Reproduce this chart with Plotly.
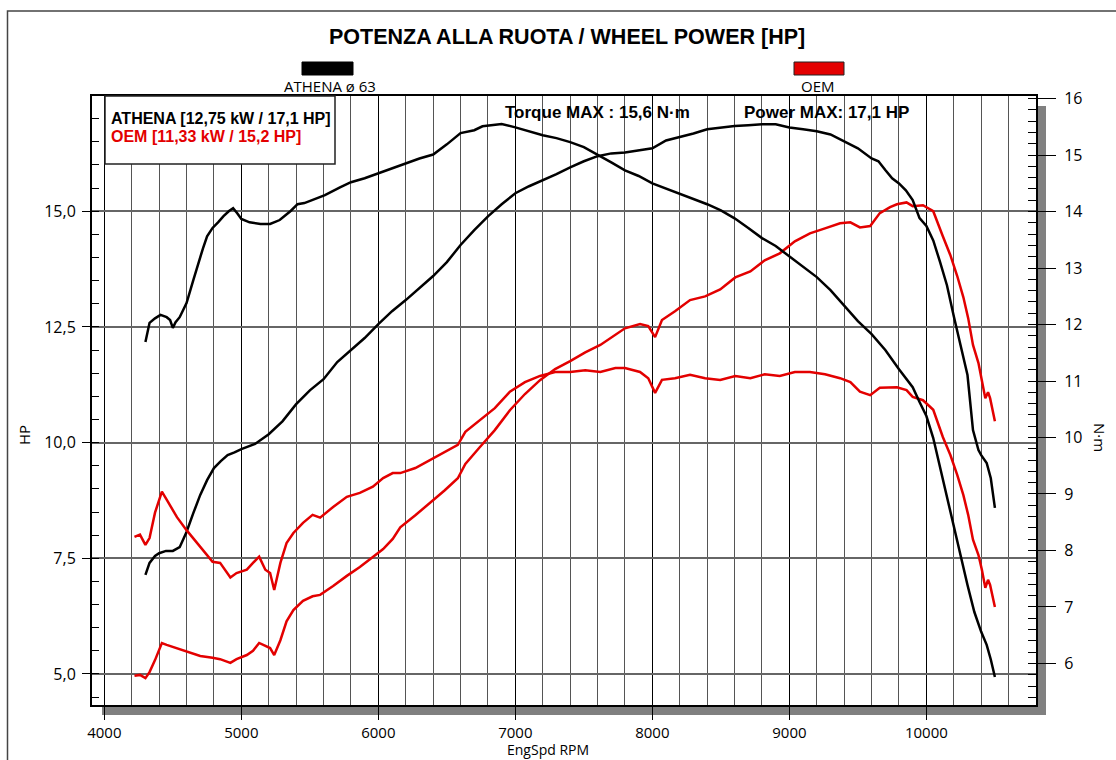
import plotly.graph_objects as go

# ---------------- data ----------------
rpm_athena_hp = [4300, 4330, 4370, 4400, 4450, 4500, 4550, 4600, 4650, 4700, 4750, 4800, 4850, 4900, 4950,
                 5000, 5100, 5200, 5300, 5400, 5500, 5600, 5700, 5800, 5900, 6000, 6100, 6200, 6300, 6400,
                 6500, 6600, 6700, 6800, 6900, 7000, 7100, 7200, 7300, 7400, 7500, 7600, 7700, 7800, 7900,
                 8000, 8100, 8200, 8300, 8400, 8500, 8600, 8700, 8800, 8900, 9000, 9100, 9200, 9300, 9400,
                 9500, 9600, 9650, 9700, 9750, 9800, 9850, 9900, 9950, 10000, 10050, 10100, 10150, 10200,
                 10250, 10300, 10340, 10380, 10400, 10440, 10470, 10500]
hp_athena = [7.14, 7.40, 7.55, 7.61, 7.66, 7.66, 7.74, 8.07, 8.48, 8.87, 9.19, 9.45, 9.60, 9.73, 9.79,
             9.86, 9.97, 10.18, 10.46, 10.83, 11.13, 11.37, 11.74, 12.00, 12.26, 12.56, 12.84, 13.08, 13.34, 13.60,
             13.90, 14.27, 14.59, 14.89, 15.15, 15.39, 15.54, 15.67, 15.80, 15.95, 16.08, 16.19, 16.25, 16.27, 16.32,
             16.36, 16.53, 16.60, 16.68, 16.77, 16.81, 16.84, 16.86, 16.88, 16.88, 16.81, 16.77, 16.73, 16.66, 16.51,
             16.36, 16.14, 16.08, 15.89, 15.71, 15.60, 15.45, 15.24, 14.85, 14.68, 14.37, 13.90, 13.40, 12.73,
             12.11, 11.46, 10.27, 9.84, 9.73, 9.56, 9.23, 8.59]

rpm_athena_nm = [4300, 4330, 4370, 4410, 4455, 4480, 4500, 4520, 4550, 4600, 4650, 4680, 4720, 4750, 4790,
                 4830, 4870, 4910, 4940, 4970, 5000, 5060, 5140, 5210, 5280, 5360, 5410, 5460, 5540, 5610,
                 5720, 5800, 5900, 6000, 6100, 6200, 6300, 6400, 6500, 6600, 6650, 6700, 6760, 6820, 6900,
                 7000, 7100, 7200, 7300, 7400, 7500, 7600, 7700, 7800, 7900, 8000, 8100, 8200, 8300, 8400,
                 8500, 8600, 8700, 8800, 8900, 9000, 9100, 9200, 9300, 9400, 9500, 9600, 9700, 9800, 9900,
                 9950, 10000, 10050, 10100, 10150, 10200, 10250, 10300, 10350, 10400, 10440, 10470, 10500]
nm_athena = [11.69, 12.03, 12.11, 12.17, 12.13, 12.08, 11.94, 12.04, 12.13, 12.38, 12.79, 13.05, 13.35, 13.56, 13.71,
             13.81, 13.92, 14.01, 14.06, 13.97, 13.87, 13.81, 13.78, 13.78, 13.85, 14.01, 14.13, 14.15, 14.22, 14.29,
             14.43, 14.52, 14.59, 14.68, 14.77, 14.86, 14.94, 15.01, 15.19, 15.39, 15.42, 15.44, 15.51, 15.53, 15.55,
             15.49, 15.42, 15.35, 15.30, 15.23, 15.14, 15.01, 14.87, 14.73, 14.63, 14.50, 14.41, 14.31, 14.22, 14.13,
             14.02, 13.88, 13.71, 13.53, 13.39, 13.21, 13.03, 12.84, 12.61, 12.34, 12.06, 11.83, 11.55, 11.21, 10.89,
             10.63, 10.38, 9.99, 9.46, 8.98, 8.45, 7.87, 7.39, 6.91, 6.56, 6.33, 6.07, 5.76]

rpm_oem = [4220, 4260, 4300, 4330, 4370, 4420, 4455, 4530, 4600, 4700, 4790, 4845, 4920, 4965, 5040,
           5085, 5130, 5175, 5210, 5240, 5285, 5330, 5380, 5450, 5520, 5575, 5670, 5770, 5865, 5960,
           6035, 6105, 6160, 6270, 6375, 6485, 6580, 6635, 6740, 6850, 6960, 7070, 7180, 7290, 7400,
           7510, 7620, 7730, 7800, 7910, 7970, 8020, 8070, 8165, 8275, 8385, 8495, 8605, 8715, 8820,
           8930, 9040, 9150, 9260, 9370, 9445, 9515, 9590, 9660, 9735, 9785, 9855, 9900, 9975, 10050,
           10120, 10175, 10225, 10270, 10305, 10340, 10380, 10405, 10430, 10450, 10465, 10500]
nm_oem = [8.24, 8.28, 8.10, 8.22, 8.67, 9.04, 8.90, 8.59, 8.36, 8.06, 7.80, 7.78, 7.52, 7.60, 7.66,
          7.78, 7.89, 7.66, 7.60, 7.30, 7.78, 8.13, 8.31, 8.49, 8.63, 8.58, 8.77, 8.95, 9.02, 9.13,
          9.28, 9.37, 9.37, 9.46, 9.60, 9.74, 9.87, 10.10, 10.31, 10.52, 10.81, 10.98, 11.09, 11.16, 11.16,
          11.19, 11.16, 11.23, 11.23, 11.16, 11.05, 10.79, 11.02, 11.05, 11.11, 11.05, 11.02, 11.09, 11.05, 11.12,
          11.09, 11.16, 11.16, 11.12, 11.05, 10.98, 10.81, 10.75, 10.88, 10.88, 10.89, 10.84, 10.72, 10.66, 10.49,
          10.01, 9.69, 9.34, 8.98, 8.63, 8.19, 7.92, 7.66, 7.34, 7.48, 7.39, 7.00]
hp_oem = [4.96, 4.98, 4.91, 5.04, 5.30, 5.67, 5.63, 5.56, 5.48, 5.39, 5.35, 5.32, 5.24, 5.32, 5.41,
          5.50, 5.67, 5.60, 5.56, 5.41, 5.73, 6.14, 6.38, 6.58, 6.68, 6.71, 6.90, 7.12, 7.31, 7.53,
          7.70, 7.92, 8.17, 8.43, 8.69, 8.97, 9.23, 9.54, 9.90, 10.27, 10.70, 11.05, 11.35, 11.59, 11.76,
          11.95, 12.11, 12.34, 12.47, 12.56, 12.52, 12.28, 12.65, 12.84, 13.08, 13.16, 13.31, 13.57, 13.70, 13.94,
          14.09, 14.35, 14.52, 14.63, 14.74, 14.76, 14.65, 14.68, 14.96, 15.09, 15.15, 15.19, 15.11, 15.13, 15.00,
          14.46, 14.05, 13.60, 13.14, 12.69, 12.11, 11.72, 11.35, 10.96, 11.09, 10.96, 10.46]

x_ticks = [4000, 5000, 6000, 7000, 8000, 9000, 10000]
hp_ticks = [5.0, 7.5, 10.0, 12.5, 15.0]
hp_tick_text = ["5,0", "7,5", "10,0", "12,5", "15,0"]
nm_ticks = [6, 7, 8, 9, 10, 11, 12, 13, 14, 15, 16]

x_range = [3910, 10800]
hp_range = [4.33, 17.49]
nm_range = [5.264, 16.046]

series_names = ["ATHENA ø 63", "OEM"]
info_lines = ["ATHENA [12,75 kW / 17,1 HP]", "OEM [11,33 kW / 15,2 HP]"]
title_text = "POTENZA ALLA RUOTA / WHEEL POWER [HP]"
max_texts = ["Torque MAX : 15,6 N·m", "Power MAX: 17,1 HP"]

# ---------------- layout geometry ----------------
W, H = 1116, 760
L, R, T, B = 92, 1036, 96, 705
RED = "#e30000"
BLACK = "#000000"
SANS = "Open Sans"
ARIAL = "Liberation Sans"


def px(x, y):
    return (x - L) / (R - L), (B - y) / (B - T)


fig = go.Figure()
fig.add_trace(go.Scatter(x=rpm_oem, y=hp_oem, mode="lines", line=dict(color=RED, width=2.5), yaxis="y", name="OEM HP"))
fig.add_trace(go.Scatter(x=rpm_oem, y=nm_oem, mode="lines", line=dict(color=RED, width=2.5), yaxis="y2", name="OEM Nm"))
fig.add_trace(go.Scatter(x=rpm_athena_hp, y=hp_athena, mode="lines", line=dict(color=BLACK, width=2.5), yaxis="y", name="ATHENA HP"))
fig.add_trace(go.Scatter(x=rpm_athena_nm, y=nm_athena, mode="lines", line=dict(color=BLACK, width=2.5), yaxis="y2", name="ATHENA Nm"))

shapes = []


def rect(x0, y0, x1, y1, fill=None, line_color=None, lw=0, layer="above"):
    a0, b0 = px(x0, y0)
    a1, b1 = px(x1, y1)
    shapes.append(dict(type="rect", xref="paper", yref="paper", x0=a0, y0=b1, x1=a1, y1=b0,
                       fillcolor=fill if fill else "rgba(0,0,0,0)",
                       line=dict(color=line_color if line_color else "rgba(0,0,0,0)", width=lw),
                       layer=layer))


# outer frame
rect(7.5, 11, 1135, 780, line_color="#444444", lw=1.5, layer="below")
# shadows
rect(102, 705, 1046, 715, fill="#808080", layer="below")
rect(1036, 106, 1046, 715, fill="#808080", layer="below")
# legend swatches
rect(302, 62, 353, 75, fill=BLACK, line_color=BLACK, lw=1)
rect(794, 62, 844, 75, fill=RED, line_color="#222222", lw=1)
# info box
rect(105, 96, 335, 164, fill="white", line_color="#222222", lw=1.5)

annotations = []


def text(x, y, s, size=15, family=SANS, color="black", xanchor="center", angle=0):
    a, b = px(x, y)
    annotations.append(dict(x=a, y=b, xref="paper", yref="paper", text=s, showarrow=False,
                            xanchor=xanchor, yanchor="middle", textangle=angle,
                            font=dict(family=family, size=size, color=color)))


text(567, 37, "<b>" + title_text + "</b>", size=21.5, family=ARIAL)
text(330, 86, series_names[0], size=15)
text(818, 86, series_names[1], size=15)
text(109, 119, "<b>" + info_lines[0] + "</b>", size=16, family=ARIAL, xanchor="left")
text(109, 136, "<b>" + info_lines[1] + "</b>", size=16, family=ARIAL, color=RED, xanchor="left")
text(503, 113, "<b>" + max_texts[0] + "</b>", size=17, family=ARIAL, xanchor="left")
text(742, 113, "<b>" + max_texts[1] + "</b>", size=17, family=ARIAL, xanchor="left")
text(24, 435, "HP", size=15, angle=-90)
text(1100, 437, "N·m", size=15, angle=90)
text(548, 749, "EngSpd RPM", size=14)

fig.update_layout(
    width=W, height=H,
    margin=dict(l=L, r=W - R, t=T, b=H - B, pad=0),
    paper_bgcolor="white", plot_bgcolor="white", showlegend=False,
    font=dict(family=SANS, size=16, color="black"),
    shapes=shapes, annotations=annotations,
    xaxis=dict(range=x_range, tickvals=x_ticks, ticktext=[str(v) for v in x_ticks],
               ticks="outside", ticklen=13, tickwidth=1, tickcolor="black",
               showgrid=True, gridcolor="black", gridwidth=1,
               minor=dict(tick0=4000, dtick=200, showgrid=True, gridcolor="#555555", gridwidth=1.2, ticks=""),
               showline=True, linecolor="black", linewidth=2, mirror=True, zeroline=False,
               tickfont=dict(size=15), ticklabelstandoff=0),
    yaxis=dict(range=hp_range, tickvals=hp_ticks, ticktext=hp_tick_text,
               ticks="outside", ticklen=8, tickwidth=1, tickcolor="black",
               showgrid=True, gridcolor="#666666", gridwidth=1.5,
               minor=dict(tick0=0, dtick=0.5, ticks="inside", ticklen=7, tickwidth=1, tickcolor="black", showgrid=False),
               showline=True, linecolor="black", linewidth=2, mirror=True, zeroline=False,
               tickfont=dict(size=16), ticklabelstandoff=3),
    yaxis2=dict(range=nm_range, overlaying="y", side="right", tickvals=nm_ticks,
                ticks="outside", ticklen=18, tickwidth=1, tickcolor="black",
                minor=dict(tick0=0, dtick=0.2, ticks="inside", ticklen=8, tickwidth=1, tickcolor="black"),
                showgrid=False, zeroline=False, showline=True, linecolor="black", linewidth=2,
                tickfont=dict(size=16), ticklabelstandoff=5),
)

fig.write_html("out.html", config={"displayModeBar": False},
               post_script="document.body.style.margin='0';")
